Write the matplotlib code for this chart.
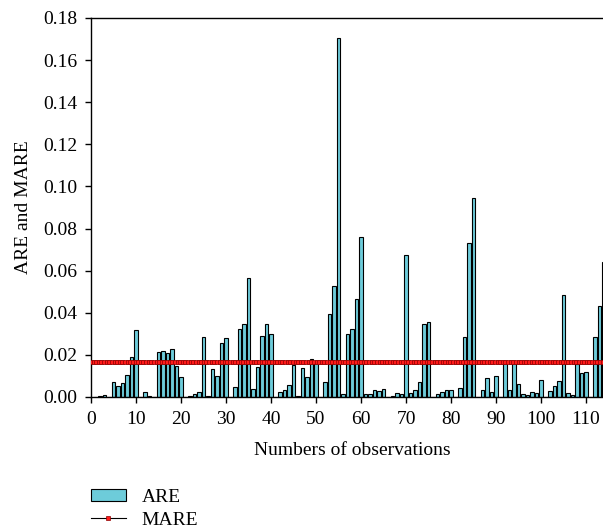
import numpy as np
import matplotlib
matplotlib.use("Agg")
import matplotlib.pyplot as plt

obs = np.arange(1, 115)
are = [0, 0.0006, 0.001, 0, 0.0070, 0.0051, 0.0066, 0.0103, 0.0192, 0.032,
       0, 0.0024, 0.0005, 0, 0.0215, 0.0217, 0.0209, 0.0226, 0.0147, 0.0093,
       0, 0.0006, 0.0013, 0.0022, 0.0285, 0.0005, 0.0131, 0.0098, 0.0255, 0.028,
       0, 0.0048, 0.0322, 0.0348, 0.0565, 0.0036, 0.0143, 0.0291, 0.0348, 0.030,
       0, 0.0024, 0.0032, 0.0055, 0.0152, 0.0005, 0.0139, 0.0095, 0.0181, 0.0165,
       0, 0.0073, 0.0396, 0.0525, 0.1705, 0.0016, 0.030, 0.0325, 0.0465, 0.0758,
       0.0016, 0.0013, 0.0035, 0.0028, 0.0036, 0, 0.0005, 0.0017, 0.0014, 0.0676,
       0.002, 0.0035, 0.007, 0.0348, 0.0356, 0, 0.0014, 0.0025, 0.0032, 0.0032,
       0, 0.0041, 0.0287, 0.073, 0.0944, 0, 0.0035, 0.0092, 0.0024, 0.0098,
       0, 0.0165, 0.0032, 0.016, 0.0063, 0.0016, 0.001, 0.0022, 0.0017, 0.0079,
       0, 0.0028, 0.0052, 0.0078, 0.0483, 0.0017, 0.0008, 0.0155, 0.0114, 0.012,
       0, 0.0287, 0.043, 0.0643]
mare = 0.0168

plt.rcParams['font.family'] = ['Liberation Serif', 'DejaVu Serif']
fs = 14

fig = plt.figure(figsize=(6.03, 5.32), dpi=100)
ax = fig.add_axes([0.1509, 0.2538, 0.8657, 0.7124])

ax.bar(obs, are, width=0.8, color='#6DCCDA', edgecolor='black', linewidth=0.8,
       label='ARE', zorder=2)
xl = np.linspace(0, 116, 200)
ax.plot(xl, np.full(len(xl), mare), color='black', lw=0.8, marker='s',
        markersize=3, markerfacecolor='#FF1A1A', markeredgecolor='#8B0000',
        markeredgewidth=0.5, label='MARE', zorder=3)

ax.set_xlim(0, 116)
ax.set_ylim(0, 0.18)
ax.set_xticks(np.arange(0, 111, 10))
ax.set_yticks(np.arange(0, 0.181, 0.02))
ax.set_yticklabels(['%.2f' % v for v in np.arange(0, 0.181, 0.02)])
ax.tick_params(direction='out', length=4, width=1, labelsize=fs, pad=6)
ax.spines['right'].set_visible(False)
for s in ['left', 'bottom', 'top']:
    ax.spines[s].set_linewidth(1)

ax.set_xlabel('Numbers of observations', fontsize=fs, labelpad=10)
ax.set_ylabel('ARE and MARE', fontsize=fs, labelpad=8)

h, l = ax.get_legend_handles_labels()
fig.legend(h[::-1], l[::-1], loc='upper left', bbox_to_anchor=(0.138, 0.096),
           frameon=False, fontsize=fs, handlelength=1.8, handleheight=0.6,
           labelspacing=0.32, borderaxespad=0)

fig.savefig('out.png', dpi=100)
